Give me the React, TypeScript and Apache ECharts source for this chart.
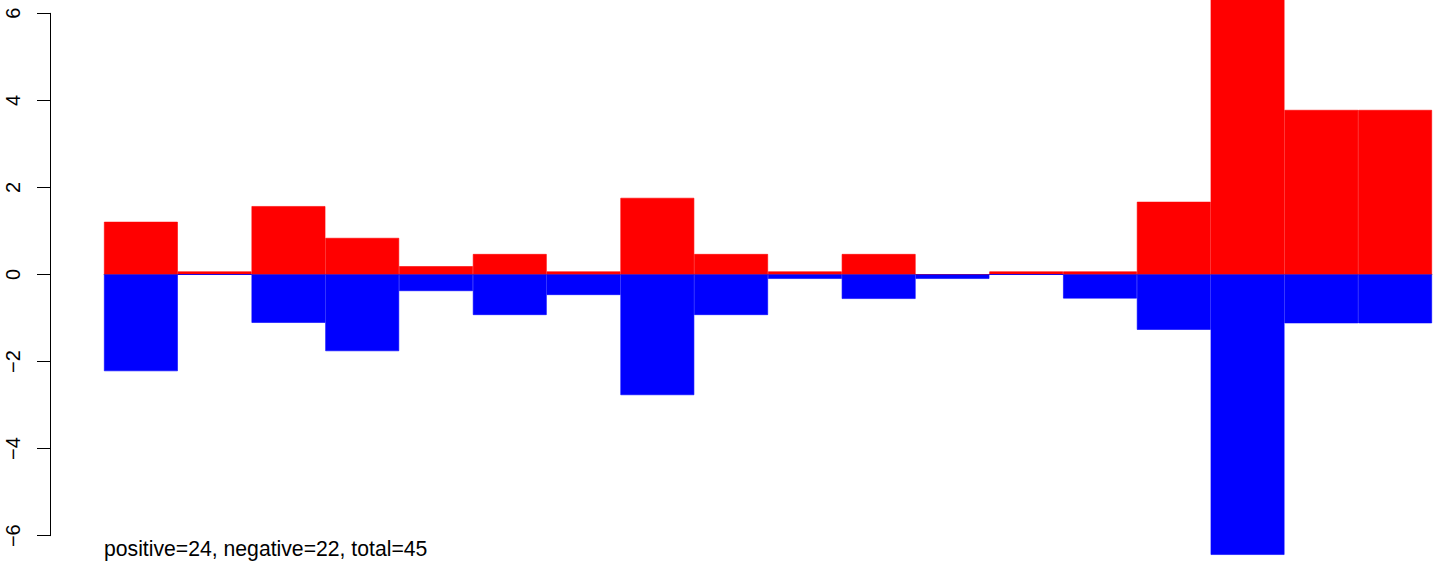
import React, { useEffect, useRef } from "react";
import * as echarts from "echarts";

const categories = ["1","2","3","4","5","6","7","8","9","10","11","12","13","14","15","16","17","18"];
const positiveValues = [1.21, 0.07, 1.57, 0.84, 0.19, 0.47, 0.07, 1.76, 0.47, 0.07, 0.47, 0, 0.07, 0.07, 1.67, 6.9, 3.78, 3.78];
const negativeValues = [-2.22, 0, -1.11, -1.76, -0.38, -0.93, -0.47, -2.77, -0.93, -0.1, -0.56, -0.1, 0, -0.55, -1.27, -6.44, -1.12, -1.12];
const yTicks = [-6, -4, -2, 0, 2, 4, 6];
const footnote = "positive=24, negative=22, total=45";

const FONT = "'Liberation Sans', Arial, Helvetica, sans-serif";

export default function App() {
  const ref = useRef<HTMLDivElement>(null);
  useEffect(() => {
    if (!ref.current) return;
    const chart = echarts.init(ref.current, null, { renderer: "svg" });
    chart.setOption({
      animation: false,
      backgroundColor: "#ffffff",
      textStyle: { fontFamily: FONT },
      grid: { left: 104, right: 12, top: 13.3, bottom: 30.3, containLabel: false },
      xAxis: {
        type: "category",
        data: categories,
        axisLine: { show: true, onZero: true, lineStyle: { color: "#888888", width: 1 } },
        axisTick: { show: false },
        axisLabel: { show: false },
        splitLine: { show: false },
      },
      yAxis: {
        type: "value",
        min: yTicks[0],
        max: yTicks[yTicks.length - 1],
        interval: 2,
        offset: 54,
        axisLine: { show: true, lineStyle: { color: "#000000", width: 1 } },
        axisTick: { show: true, length: 13, inside: false, lineStyle: { color: "#000000", width: 1 } },
        axisLabel: {
          show: true,
          rotate: 90,
          margin: 27,
          fontSize: 20,
          color: "#000000",
          fontFamily: FONT,
          formatter: (v: number) => (v < 0 ? "\u2212" + Math.abs(v) : String(v)),
        },
        splitLine: { show: false },
      },
      series: [
        {
          type: "bar",
          name: "positive",
          data: positiveValues,
          barGap: "-100%",
          barCategoryGap: "0%",
          clip: false,
          itemStyle: { color: "#ff0000", borderColor: "#ff0000", borderWidth: 0.6 },
          z: 3,
        },
        {
          type: "bar",
          name: "negative",
          data: negativeValues,
          barGap: "-100%",
          barCategoryGap: "0%",
          clip: false,
          itemStyle: { color: "#0000ff", borderColor: "#0000ff", borderWidth: 0.6 },
          z: 3,
        },
      ],
      graphic: [
        {
          type: "text",
          left: 104,
          top: 538,
          style: {
            text: footnote,
            fontSize: 21.2,
            fontFamily: FONT,
            fill: "#000000",
          },
        },
      ],
    });
    return () => chart.dispose();
  }, []);
  return (
    <div
      ref={ref}
      style={{ position: "fixed", left: 0, top: 0, width: 1444, height: 566, background: "#fff" }}
    />
  );
}
